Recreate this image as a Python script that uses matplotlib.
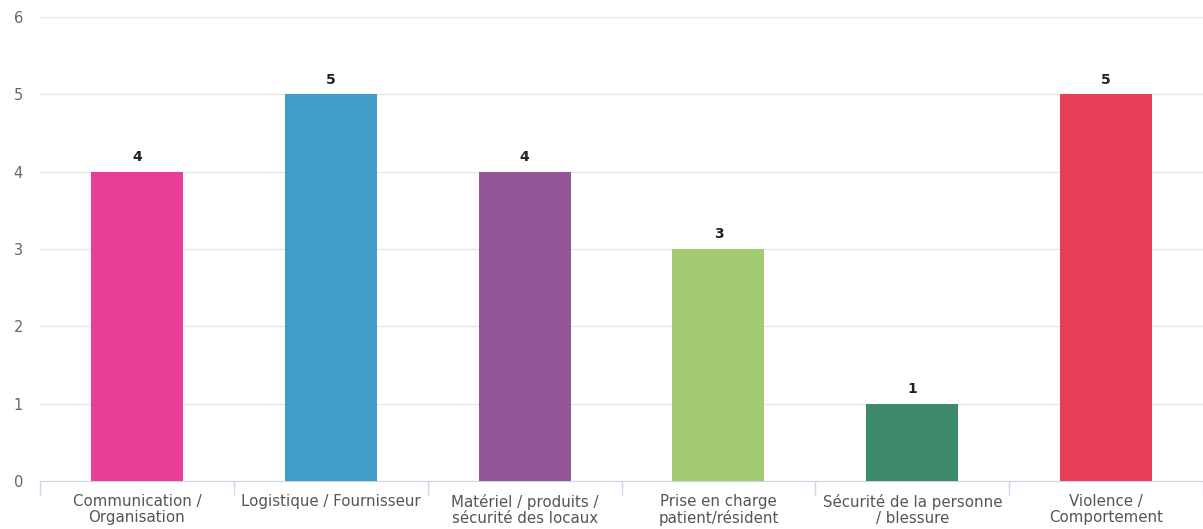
import numpy as np
import matplotlib.pyplot as plt

categories = ['Communication /\nOrganisation', 'Logistique / Fournisseur',
              'Matériel / produits /\nsécurité des locaux', 'Prise en charge\npatient/résident',
              'Sécurité de la personne\n/ blessure', 'Violence /\nComportement']
values = [4, 5, 4, 3, 1, 5]
colors = ['#E83E96', '#409DC8', '#935596', '#A3CC72', '#3D8B6B', '#E83E58']

plt.rcParams['font.family'] = ['DejaVu Sans']

fig = plt.figure(figsize=(12.03, 5.29), dpi=100)
ax = fig.add_axes([0.0333, 0.0907, 0.9667, 0.8772])

x = np.arange(len(categories))
bars = ax.bar(x, values, width=0.475, color=colors, zorder=3)
for xi, v in zip(x, values):
    ax.text(xi, v + 0.1, str(v), ha='center', va='bottom', fontsize=10,
            fontweight='bold', color='#222222')

ax.set_xlim(-0.5, len(categories) - 0.5)
ax.set_ylim(0, 6)
ax.set_yticks(range(0, 7))
ax.grid(axis='y', color='#e6e6e6', linewidth=1, zorder=0)

ax.set_xticks(x)
ax.set_xticklabels(categories, fontsize=10.8, color='#555555', linespacing=1.15)
ax.tick_params(axis='x', which='major', length=0, pad=9)
ax.set_xticks(np.arange(-0.5, len(categories), 1), minor=True)
ax.tick_params(axis='x', which='minor', length=10, color='#ccd6eb', width=1)
ax.tick_params(axis='y', length=0, labelsize=10.5, labelcolor='#666666', pad=19)
for lbl in ax.get_yticklabels():
    lbl.set_horizontalalignment('left')

for s in ['top', 'right', 'left']:
    ax.spines[s].set_visible(False)
ax.spines['bottom'].set_color('#ccd6eb')

fig.savefig('out.png', dpi=100)
